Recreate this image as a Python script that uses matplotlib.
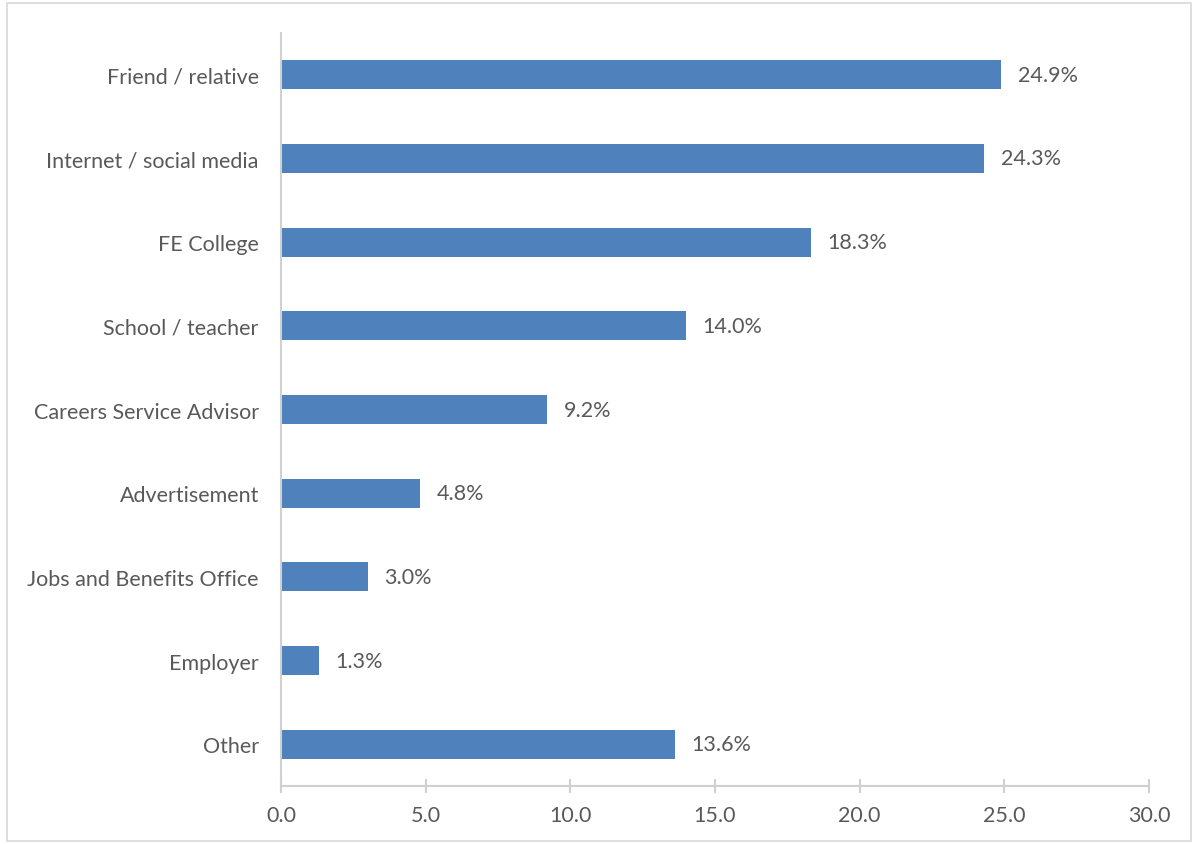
import matplotlib.pyplot as plt
from matplotlib.patches import Rectangle

categories = ['Friend / relative', 'Internet / social media', 'FE College',
              'School / teacher', 'Careers Service Advisor', 'Advertisement',
              'Jobs and Benefits Office', 'Employer', 'Other']
values = [24.9, 24.3, 18.3, 14.0, 9.2, 4.8, 3.0, 1.3, 13.6]
xticks = [0, 5, 10, 15, 20, 25, 30]

plt.rcParams['font.family'] = ['Lato', 'DejaVu Sans']
text_color = '#595959'
axis_color = '#d0d0d0'
fs = 15.5

fig = plt.figure(figsize=(11.98, 8.45), dpi=100)
ax = fig.add_axes([0.2346, 0.0686, 0.7245, 0.8912])

pos = list(range(len(categories)))[::-1]
ax.barh(pos, values, height=0.35, color='#4f81bd', zorder=2)

for p, v in zip(pos, values):
    ax.annotate('{:.1f}%'.format(v), (v, p), xytext=(12, 0), textcoords='offset points',
                ha='left', va='center', fontsize=fs, color=text_color)

ax.set_xlim(0, 30)
ax.set_ylim(-0.5, len(categories) - 0.5)
ax.set_xticks(xticks)
ax.set_xticklabels(['{:.1f}'.format(t) for t in xticks], fontsize=fs, color=text_color)
ax.set_yticks(pos)
ax.set_yticklabels(categories, fontsize=fs, color=text_color)

for s in ['top', 'right']:
    ax.spines[s].set_visible(False)
for s in ['left', 'bottom']:
    ax.spines[s].set_color(axis_color)
    ax.spines[s].set_linewidth(1.5)
ax.tick_params(axis='y', length=0, pad=16)
ax.tick_params(axis='x', direction='inout', length=10, width=1.5, color=axis_color, pad=9)

# light frame around the whole chart
fig.patches.append(Rectangle((0.006, 0.003), 0.988, 0.992, transform=fig.transFigure,
                             fill=False, edgecolor='#d9d9d9', linewidth=1.2))

fig.savefig('out.png', dpi=100)
